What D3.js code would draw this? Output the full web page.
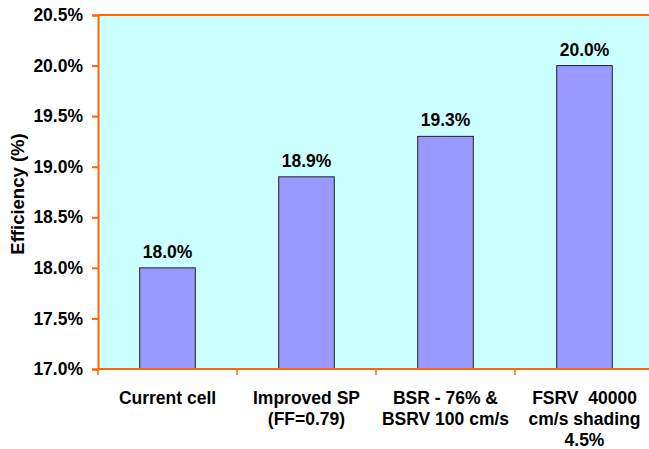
<!DOCTYPE html>
<html>
<head>
<meta charset="utf-8">
<script src="https://cdn.jsdelivr.net/npm/d3@7"></script>
<style>
  html, body { margin: 0; padding: 0; background: #ffffff; }
  svg { display: block; }
  .cat { white-space: pre; }
</style>
</head>
<body>
<svg id="chart" width="649" height="449"></svg>
<script>
// Cell efficiency for each improvement step
const categories = [
  ["Current cell"],
  ["Improved SP", "(FF=0.79)"],
  ["BSR - 76% &", "BSRV 100 cm/s"],
  ["FSRV  40000", "cm/s shading", "4.5%"]
];
const efficiency = [18.0, 18.9, 19.3, 20.0];
const yTicks = [17.0, 17.5, 18.0, 18.5, 19.0, 19.5, 20.0, 20.5];
const yTitle = "Efficiency (%)";

const FONT = "Arial, 'Liberation Sans', sans-serif";
const svg = d3.select("#chart")
  .attr("font-family", FONT)
  .attr("font-weight", "bold");
const margin = { left: 98, top: 15, right: 654, bottom: 369 };

const x = d3.scaleBand()
  .domain(d3.range(categories.length))
  .range([margin.left, margin.right])
  .paddingInner(0.6)
  .paddingOuter(0.3);

const y = d3.scaleLinear()
  .domain([17.0, 20.5])
  .range([margin.bottom, margin.top]);

const axisColor = "#FF6600";

// plot background
svg.append("rect")
  .attr("x", margin.left)
  .attr("y", margin.top)
  .attr("width", margin.right - margin.left)
  .attr("height", margin.bottom - margin.top)
  .attr("fill", "#CCFFFF");

// bars
svg.selectAll("rect.bar")
  .data(efficiency)
  .join("rect")
  .attr("class", "bar")
  .attr("x", (d, i) => x(i))
  .attr("y", d => y(d))
  .attr("width", x.bandwidth())
  .attr("height", d => y(17.0) - y(d))
  .attr("fill", "#9999FF")
  .attr("stroke", "#222")
  .attr("stroke-width", 1);

// value labels
svg.selectAll("text.val")
  .data(efficiency)
  .join("text")
  .attr("class", "val")
  .attr("x", (d, i) => x(i) + x.bandwidth() / 2)
  .attr("y", d => y(d) - 10)
  .attr("text-anchor", "middle")
  .attr("font-size", 17.5)
  .attr("fill", "#000")
  .text(d => d.toFixed(1) + "%");

// y axis
const yAxis = d3.axisLeft(y)
  .tickValues(yTicks)
  .tickSize(6)
  .tickPadding(9)
  .tickFormat(d => d.toFixed(1) + "%");
const gy = svg.append("g")
  .attr("transform", `translate(${margin.left},0)`)
  .call(yAxis)
  .attr("font-family", FONT)
  .attr("font-size", 17.5);
gy.select(".domain").attr("stroke", axisColor).attr("stroke-width", 2);
gy.selectAll(".tick line").attr("stroke", axisColor).attr("stroke-width", 2);
gy.selectAll(".tick text")
  .attr("font-weight", "bold")
  .attr("fill", "#000");

// x axis line with tick marks between categories
const step = x.step();
const bounds = d3.range(categories.length + 1).map(i => margin.left + i * step);
svg.append("line")
  .attr("x1", margin.left).attr("x2", margin.right)
  .attr("y1", margin.bottom).attr("y2", margin.bottom)
  .attr("stroke", axisColor).attr("stroke-width", 2);
svg.selectAll("line.xtick")
  .data(bounds)
  .join("line")
  .attr("class", "xtick")
  .attr("x1", d => d).attr("x2", d => d)
  .attr("y1", margin.bottom).attr("y2", margin.bottom + 6)
  .attr("stroke", axisColor).attr("stroke-width", 1.5);

// top border
svg.append("line")
  .attr("x1", margin.left).attr("x2", margin.right)
  .attr("y1", margin.top).attr("y2", margin.top)
  .attr("stroke", axisColor).attr("stroke-width", 2);

// category labels
categories.forEach((lines, i) => {
  const cx = x(i) + x.bandwidth() / 2;
  const t = svg.append("text")
    .attr("class", "cat")
    .attr("x", cx)
    .attr("y", 404)
    .attr("text-anchor", "middle")
    .attr("font-size", 17.5)
    .attr("fill", "#000");
  lines.forEach((ln, j) => {
    t.append("tspan")
      .attr("x", cx)
      .attr("dy", j === 0 ? 0 : 21)
      .text(ln);
  });
});

// y axis title
svg.append("text")
  .attr("transform", `translate(24,${(margin.top + margin.bottom) / 2 + 2}) rotate(-90)`)
  .attr("text-anchor", "middle")
  .attr("font-size", 18.5)
  .attr("fill", "#000")
  .text(yTitle);
</script>
</body>
</html>
